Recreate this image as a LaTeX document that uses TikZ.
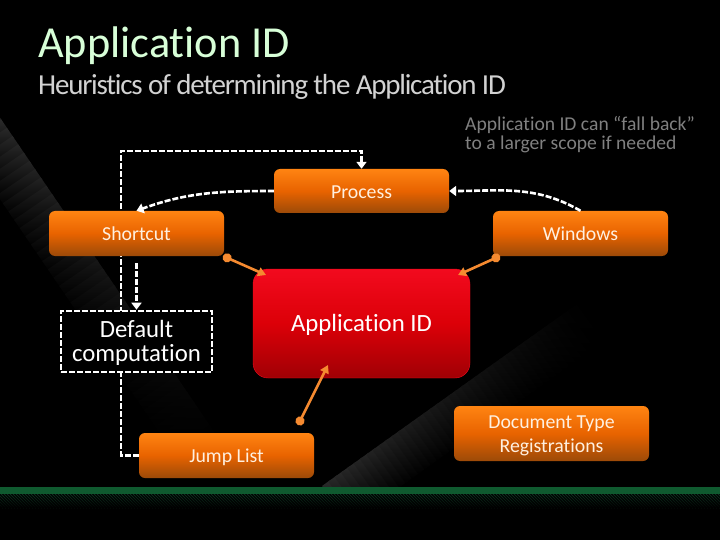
\documentclass[tikz,border=0pt]{standalone}
\usepackage{fontspec}
\setmainfont[RawFeature=-liga]{Carlito}
\usetikzlibrary{arrows.meta,fadings,calc}
\definecolor{beam}{HTML}{2C2C2C}
\definecolor{orgl}{HTML}{FF8412}
\definecolor{orgm}{HTML}{E86300}
\definecolor{orgd}{HTML}{9C4A08}
\definecolor{conn}{HTML}{F58A30}
\definecolor{titlec}{HTML}{D8FFD8}
\definecolor{subc}{HTML}{D2D2D2}
\definecolor{footg}{HTML}{0F5A2F}
\definecolor{hatchg}{HTML}{0E3320}
\definecolor{redl}{HTML}{F20A1E}
\definecolor{redm}{HTML}{DC0008}
\definecolor{redd}{HTML}{A00005}
\pgfdeclarelayer{back}
\pgfsetlayers{back,main}
\newcommand{\beamstrips}[2]{%
  \foreach \t in {0,...,39} {
    \pgfmathsetmacro{\pc}{100-2.5*\t}
    \pgfmathsetmacro{\xa}{#1*\t/40}
    \pgfmathsetmacro{\xb}{#1*(\t+1)/40+3}
    \shade[top color=beam!\pc!black,bottom color=black] (\xa,0) rectangle (\xb,#2);
  }}
\tikzset{
  x=1pt,y=-1pt,
  orgbox/.style={rounded corners=6pt,inner sep=0pt,text=white!88!orange,font=\fontsize{19.8}{24}\selectfont,align=center,
    top color=orgl,bottom color=orgd,middle color=orgm},
  dashline/.style={draw=white,line width=2.6pt,dash pattern=on 6pt off 2pt},
  dashhead/.style={-{Triangle[width=10pt,length=7pt,fill=white]}},
  orgline/.style={draw=conn,line width=2.6pt,{Circle[length=9pt,fill=conn]}-{Triangle[width=9pt,length=8pt,fill=conn]}},
}
\begin{document}
\begin{tikzpicture}
\useasboundingbox (0,0) rectangle (720,540);
% nodes
\node[anchor=base west,inner sep=0pt,text=titlec,font=\fontsize{44.3}{44}\selectfont] (title) at (38,58) {Application ID};
\node[anchor=base west,inner sep=0pt,text=subc,font=\fontsize{29}{29}\selectfont] (sub) at (38,95) {\addfontfeature{LetterSpace=-4.2}Heuristics of determining the Application ID};
\node[anchor=north west,inner sep=0pt,text=black!50!white,align=left,font=\fontsize{19.6}{19}\selectfont] (note) at (465,116) {Application ID can “fall back”\\to a larger scope if needed};
\node[orgbox,minimum width=175pt,minimum height=44pt] (process) at (361.5,191) {\rule{0pt}{15pt}Process};
\node[orgbox,minimum width=175pt,minimum height=45pt] (shortcut) at (136.5,233.5) {Shortcut};
\node[orgbox,minimum width=175pt,minimum height=45pt] (windows) at (580.5,233.5) {Windows};
\node[orgbox,minimum width=175pt,minimum height=45pt] (jump) at (226.5,455.5) {\rule{0pt}{17pt}Jump List};
\node[orgbox,minimum width=195pt,minimum height=55pt] (doc) at (551.5,433.5) {\rule{0pt}{17pt}Document Type\\Registrations};
\node[rounded corners=15pt,minimum width=217pt,minimum height=109pt,inner sep=0pt,draw=redl,top color=redl,bottom color=redd,middle color=redm,text=white,font=\fontsize{24.8}{24}\selectfont] (app) at (361.5,323.5) {\rule{0pt}{19pt}Application ID};
\node[dashline,fill=black,rectangle,minimum width=151pt,minimum height=61pt,inner sep=0pt,align=center,text=white,font=\fontsize{24.8}{24}\selectfont] (default) at (136.5,341.5) {\rule{0pt}{19pt}Default\\computation};
\begin{pgfonlayer}{back}
\fill[black] (0,0) rectangle (720,540);
\begin{scope}
\clip (0,0) rectangle (720,487);
\begin{scope}[shift={(-10,103)},rotate=-55.7]
\beamstrips{400}{46}
\end{scope}
\begin{scope}[shift={(322,486)},rotate=35.5]
\beamstrips{310}{46}
\end{scope}
\end{scope}
\fill[footg] (0,487) rectangle (720,494);
\begin{scope}
\clip (0,494) rectangle (720,508);
\foreach \i in {-14,-11,...,720} {\draw[draw=hatchg,line width=0.8pt] (\i,494) -- ++(14,14);}
\fill[black,path fading=north] (0,494) rectangle (720,508);
\end{scope}
\coordinate (rl) at (121,151);
\coordinate (rb) at (121,455.5);
\draw[dashline,dashhead] (jump.west) -- (rb) -- (rl) -- (rl -| process.north) -- (process.north);
\end{pgfonlayer}
% connectors
\draw[dashline,dashhead] (process.west) to[out=180,in=20] (shortcut.north);
\draw[dashline,dashhead] (windows.north) to[out=150,in=0] (process.east);
\draw[dashline,dashhead,shorten <=7pt] (shortcut.south) -- (default.north);
\coordinate (a1) at (223,256);
\coordinate (b1) at (266,275);
\coordinate (a2) at (500,256);
\coordinate (b2) at (458,275);
\coordinate (a3) at (298,425);
\coordinate (b3) at (328,365);
\draw[orgline] (a1) -- (b1);
\draw[orgline] (a2) -- (b2);
\draw[orgline] (a3) -- (b3);
\end{tikzpicture}
\end{document}
